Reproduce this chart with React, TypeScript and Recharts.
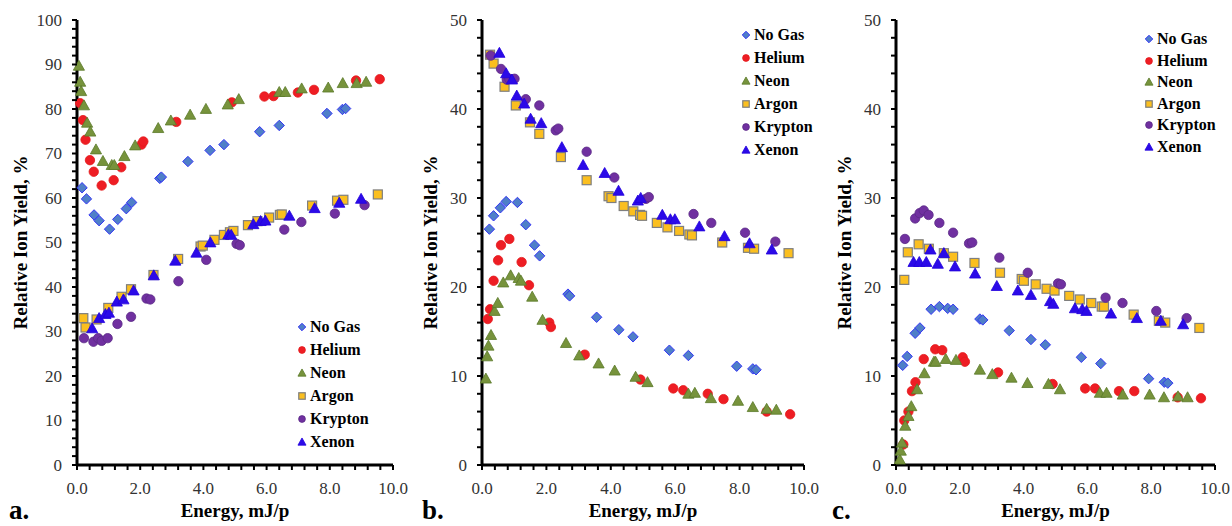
import { ScatterChart, Scatter, XAxis, YAxis, Legend, Label } from "recharts";

const FONT = "Liberation Serif, Tinos, Times New Roman, DejaVu Serif, serif";

// ---- panel a ----
const aNoGas = [
  { x: 0.16, y: 62.3 }, { x: 0.3, y: 59.8 }, { x: 0.54, y: 56.2 }, { x: 0.7, y: 54.9 },
  { x: 1.03, y: 53.0 }, { x: 1.29, y: 55.2 }, { x: 1.56, y: 57.6 }, { x: 1.73, y: 59.0 },
  { x: 2.62, y: 64.4 }, { x: 2.67, y: 64.7 }, { x: 3.51, y: 68.2 }, { x: 4.21, y: 70.7 },
  { x: 4.65, y: 72.0 }, { x: 5.78, y: 74.9 }, { x: 6.4, y: 76.3 }, { x: 7.91, y: 79.0 },
  { x: 8.4, y: 79.9 }, { x: 8.5, y: 80.1 },
];
const aHelium = [
  { x: 0.1, y: 81.3 }, { x: 0.19, y: 77.5 }, { x: 0.27, y: 73.1 }, { x: 0.41, y: 68.5 },
  { x: 0.53, y: 65.9 }, { x: 0.78, y: 62.8 }, { x: 1.16, y: 64.0 }, { x: 1.4, y: 66.9 },
  { x: 2.04, y: 72.0 }, { x: 2.1, y: 72.7 }, { x: 3.14, y: 77.1 }, { x: 4.9, y: 81.5 },
  { x: 5.93, y: 82.8 }, { x: 6.22, y: 82.9 }, { x: 6.99, y: 83.7 }, { x: 7.5, y: 84.3 },
  { x: 8.83, y: 86.4 }, { x: 9.58, y: 86.7 },
];
const aNeon = [
  { x: 0.06, y: 89.7 }, { x: 0.1, y: 86.1 }, { x: 0.13, y: 84.0 }, { x: 0.22, y: 80.8 },
  { x: 0.32, y: 76.9 }, { x: 0.42, y: 74.9 }, { x: 0.6, y: 70.9 }, { x: 0.82, y: 68.3 },
  { x: 1.1, y: 67.4 }, { x: 1.18, y: 67.4 }, { x: 1.5, y: 69.4 }, { x: 1.84, y: 71.8 },
  { x: 2.57, y: 75.7 }, { x: 2.97, y: 77.4 }, { x: 3.58, y: 78.7 }, { x: 4.08, y: 80.0 },
  { x: 4.77, y: 81.0 }, { x: 5.12, y: 82.2 }, { x: 6.4, y: 83.8 }, { x: 6.59, y: 83.8 },
  { x: 7.11, y: 84.6 }, { x: 7.95, y: 84.8 }, { x: 8.41, y: 85.8 }, { x: 8.85, y: 85.8 },
  { x: 9.15, y: 86.1 },
];
const aArgon = [
  { x: 0.2, y: 33.0 }, { x: 0.27, y: 30.9 }, { x: 0.62, y: 32.7 }, { x: 0.99, y: 35.3 },
  { x: 1.41, y: 37.8 }, { x: 1.71, y: 39.5 }, { x: 2.42, y: 42.7 }, { x: 3.2, y: 46.3 },
  { x: 3.91, y: 49.1 }, { x: 3.98, y: 49.3 }, { x: 4.35, y: 50.6 }, { x: 4.65, y: 51.7 },
  { x: 4.84, y: 52.3 }, { x: 4.95, y: 52.6 }, { x: 5.41, y: 53.9 }, { x: 5.71, y: 54.8 },
  { x: 6.08, y: 55.6 }, { x: 6.42, y: 56.2 }, { x: 6.48, y: 56.3 }, { x: 7.44, y: 58.3 },
  { x: 8.23, y: 59.4 }, { x: 8.43, y: 59.6 }, { x: 9.52, y: 60.8 },
];
const aKrypton = [
  { x: 0.22, y: 28.5 }, { x: 0.52, y: 27.7 }, { x: 0.67, y: 28.5 }, { x: 0.78, y: 27.9 },
  { x: 0.97, y: 28.5 }, { x: 1.28, y: 31.7 }, { x: 1.71, y: 33.3 }, { x: 2.2, y: 37.4 },
  { x: 2.32, y: 37.2 }, { x: 3.21, y: 41.3 }, { x: 4.09, y: 46.1 }, { x: 5.05, y: 49.7 },
  { x: 5.15, y: 49.4 }, { x: 6.56, y: 52.9 }, { x: 7.1, y: 54.6 }, { x: 8.16, y: 56.5 },
  { x: 9.1, y: 58.4 },
];
const aXenon = [
  { x: 0.48, y: 30.7 }, { x: 0.7, y: 33.0 }, { x: 0.9, y: 33.9 }, { x: 1.01, y: 34.2 },
  { x: 1.26, y: 36.7 }, { x: 1.47, y: 37.2 }, { x: 1.79, y: 39.2 }, { x: 2.43, y: 42.6 },
  { x: 3.11, y: 45.9 }, { x: 3.78, y: 47.7 }, { x: 4.22, y: 50.0 }, { x: 4.79, y: 51.8 },
  { x: 4.88, y: 51.7 }, { x: 5.58, y: 54.1 }, { x: 5.81, y: 54.8 }, { x: 5.96, y: 54.9 },
  { x: 6.72, y: 56.0 }, { x: 7.52, y: 57.7 }, { x: 8.3, y: 58.9 }, { x: 8.99, y: 59.8 },
];

// ---- panel b ----
const bNoGas = [
  { x: 0.23, y: 26.5 }, { x: 0.36, y: 28.0 }, { x: 0.57, y: 28.9 }, { x: 0.75, y: 29.6 },
  { x: 1.1, y: 29.5 }, { x: 1.36, y: 27.0 }, { x: 1.63, y: 24.7 }, { x: 1.79, y: 23.5 },
  { x: 2.67, y: 19.2 }, { x: 2.72, y: 19.0 }, { x: 3.56, y: 16.6 }, { x: 4.25, y: 15.2 },
  { x: 4.69, y: 14.4 }, { x: 5.82, y: 12.9 }, { x: 6.41, y: 12.3 }, { x: 7.91, y: 11.1 },
  { x: 8.41, y: 10.8 }, { x: 8.51, y: 10.7 },
];
const bHelium = [
  { x: 0.18, y: 16.4 }, { x: 0.25, y: 17.5 }, { x: 0.36, y: 20.7 }, { x: 0.5, y: 23.0 },
  { x: 0.59, y: 24.7 }, { x: 0.85, y: 25.4 }, { x: 1.23, y: 22.8 }, { x: 1.46, y: 20.2 },
  { x: 2.09, y: 16.0 }, { x: 2.14, y: 15.5 }, { x: 3.19, y: 12.4 }, { x: 4.92, y: 9.6 },
  { x: 5.94, y: 8.6 }, { x: 6.25, y: 8.4 }, { x: 7.01, y: 8.0 }, { x: 7.5, y: 7.4 },
  { x: 8.84, y: 6.0 }, { x: 9.57, y: 5.7 },
];
const bNeon = [
  { x: 0.12, y: 9.7 }, { x: 0.16, y: 12.2 }, { x: 0.2, y: 13.4 }, { x: 0.28, y: 14.6 },
  { x: 0.39, y: 17.3 }, { x: 0.49, y: 18.2 }, { x: 0.66, y: 20.5 }, { x: 0.89, y: 21.3 },
  { x: 1.14, y: 21.0 }, { x: 1.21, y: 20.7 }, { x: 1.56, y: 18.9 }, { x: 1.88, y: 16.3 },
  { x: 2.61, y: 13.7 }, { x: 3.02, y: 12.3 }, { x: 3.62, y: 11.4 }, { x: 4.12, y: 10.6 },
  { x: 4.77, y: 9.9 }, { x: 5.14, y: 9.3 }, { x: 6.41, y: 8.0 }, { x: 6.61, y: 8.1 },
  { x: 7.11, y: 7.5 }, { x: 7.95, y: 7.2 }, { x: 8.41, y: 6.5 }, { x: 8.84, y: 6.3 },
  { x: 9.14, y: 6.2 },
];
const bArgon = [
  { x: 0.25, y: 46.1 }, { x: 0.36, y: 45.1 }, { x: 0.7, y: 42.5 }, { x: 1.05, y: 40.4 },
  { x: 1.49, y: 38.5 }, { x: 1.78, y: 37.2 }, { x: 2.45, y: 34.6 }, { x: 3.25, y: 32.0 },
  { x: 3.93, y: 30.2 }, { x: 4.02, y: 30.0 }, { x: 4.4, y: 29.1 }, { x: 4.7, y: 28.5 },
  { x: 4.91, y: 28.1 }, { x: 4.97, y: 28.0 }, { x: 5.43, y: 27.2 }, { x: 5.76, y: 26.7 },
  { x: 6.12, y: 26.3 }, { x: 6.44, y: 25.9 }, { x: 6.52, y: 25.8 }, { x: 7.46, y: 25.0 },
  { x: 8.26, y: 24.4 }, { x: 8.45, y: 24.3 }, { x: 9.52, y: 23.8 },
];
const bKrypton = [
  { x: 0.27, y: 46.0 }, { x: 0.59, y: 44.5 }, { x: 0.77, y: 43.3 }, { x: 0.85, y: 43.4 },
  { x: 1.01, y: 43.4 }, { x: 1.36, y: 41.1 }, { x: 1.78, y: 40.4 }, { x: 2.29, y: 37.6 },
  { x: 2.37, y: 37.8 }, { x: 3.25, y: 35.2 }, { x: 4.11, y: 32.3 }, { x: 5.09, y: 29.9 },
  { x: 5.18, y: 30.1 }, { x: 6.57, y: 28.2 }, { x: 7.12, y: 27.2 }, { x: 8.17, y: 26.1 },
  { x: 9.11, y: 25.1 },
];
const bXenon = [
  { x: 0.54, y: 46.3 }, { x: 0.75, y: 44.0 }, { x: 0.93, y: 43.3 }, { x: 1.08, y: 41.5 },
  { x: 1.31, y: 40.6 }, { x: 1.51, y: 38.9 }, { x: 1.84, y: 38.4 }, { x: 2.48, y: 35.7 },
  { x: 3.14, y: 33.7 }, { x: 3.81, y: 32.8 }, { x: 4.24, y: 30.8 }, { x: 4.84, y: 29.7 },
  { x: 4.93, y: 30.0 }, { x: 5.6, y: 28.1 }, { x: 5.85, y: 27.6 }, { x: 5.99, y: 27.6 },
  { x: 6.75, y: 26.8 }, { x: 7.53, y: 25.7 }, { x: 8.31, y: 24.9 }, { x: 9.0, y: 24.2 },
];

// ---- panel c ----
const cNoGas = [
  { x: 0.21, y: 11.2 }, { x: 0.35, y: 12.2 }, { x: 0.6, y: 14.8 }, { x: 0.75, y: 15.4 },
  { x: 1.1, y: 17.5 }, { x: 1.36, y: 17.8 }, { x: 1.62, y: 17.6 }, { x: 1.79, y: 17.5 },
  { x: 2.63, y: 16.4 }, { x: 2.72, y: 16.3 }, { x: 3.55, y: 15.1 }, { x: 4.23, y: 14.1 },
  { x: 4.68, y: 13.5 }, { x: 5.81, y: 12.1 }, { x: 6.42, y: 11.4 }, { x: 7.92, y: 9.7 },
  { x: 8.41, y: 9.3 }, { x: 8.52, y: 9.2 },
];
const cHelium = [
  { x: 0.23, y: 2.3 }, { x: 0.26, y: 5.0 }, { x: 0.39, y: 6.0 }, { x: 0.5, y: 8.3 },
  { x: 0.61, y: 9.3 }, { x: 0.87, y: 11.9 }, { x: 1.23, y: 13.0 }, { x: 1.45, y: 12.9 },
  { x: 2.09, y: 12.1 }, { x: 2.16, y: 11.6 }, { x: 3.2, y: 10.4 }, { x: 4.91, y: 9.1 },
  { x: 5.93, y: 8.6 }, { x: 6.24, y: 8.6 }, { x: 6.99, y: 8.3 }, { x: 7.47, y: 8.3 },
  { x: 8.83, y: 7.6 }, { x: 9.56, y: 7.5 },
];
const cNeon = [
  { x: 0.12, y: 0.6 }, { x: 0.15, y: 1.6 }, { x: 0.19, y: 2.5 }, { x: 0.29, y: 4.4 },
  { x: 0.39, y: 5.5 }, { x: 0.48, y: 6.6 }, { x: 0.66, y: 8.5 }, { x: 0.89, y: 10.3 },
  { x: 1.19, y: 11.6 }, { x: 1.24, y: 11.6 }, { x: 1.56, y: 11.9 }, { x: 1.88, y: 11.8 },
  { x: 2.63, y: 10.7 }, { x: 3.02, y: 10.2 }, { x: 3.62, y: 9.8 }, { x: 4.12, y: 9.2 },
  { x: 4.78, y: 9.1 }, { x: 5.14, y: 8.5 }, { x: 6.39, y: 8.1 }, { x: 6.6, y: 8.1 },
  { x: 7.11, y: 7.9 }, { x: 7.95, y: 7.9 }, { x: 8.4, y: 7.6 }, { x: 8.84, y: 7.7 },
  { x: 9.14, y: 7.6 },
];
const cArgon = [
  { x: 0.26, y: 20.8 }, { x: 0.37, y: 23.9 }, { x: 0.71, y: 24.8 }, { x: 1.03, y: 24.3 },
  { x: 1.5, y: 23.8 }, { x: 1.79, y: 23.4 }, { x: 2.46, y: 22.7 }, { x: 3.26, y: 21.6 },
  { x: 3.94, y: 20.9 }, { x: 4.01, y: 20.7 }, { x: 4.38, y: 20.3 }, { x: 4.72, y: 19.8 },
  { x: 4.97, y: 19.6 }, { x: 5.43, y: 19.0 }, { x: 5.76, y: 18.6 }, { x: 6.12, y: 18.2 },
  { x: 6.45, y: 17.8 }, { x: 6.52, y: 17.8 }, { x: 7.45, y: 16.9 }, { x: 8.24, y: 16.2 },
  { x: 8.44, y: 16.0 }, { x: 9.51, y: 15.4 },
];
const cKrypton = [
  { x: 0.28, y: 25.4 }, { x: 0.6, y: 27.7 }, { x: 0.74, y: 28.3 }, { x: 0.87, y: 28.6 },
  { x: 1.02, y: 28.1 }, { x: 1.36, y: 27.2 }, { x: 1.79, y: 26.1 }, { x: 2.29, y: 24.9 },
  { x: 2.39, y: 25.0 }, { x: 3.24, y: 23.3 }, { x: 4.13, y: 21.6 }, { x: 5.08, y: 20.4 },
  { x: 5.17, y: 20.3 }, { x: 6.57, y: 18.8 }, { x: 7.1, y: 18.2 }, { x: 8.16, y: 17.3 },
  { x: 9.11, y: 16.5 },
];
const cXenon = [
  { x: 0.55, y: 22.8 }, { x: 0.73, y: 22.8 }, { x: 0.95, y: 22.8 }, { x: 1.08, y: 24.2 },
  { x: 1.31, y: 22.6 }, { x: 1.5, y: 23.8 }, { x: 1.85, y: 22.3 }, { x: 2.48, y: 21.5 },
  { x: 3.16, y: 20.1 }, { x: 3.82, y: 19.6 }, { x: 4.23, y: 19.1 }, { x: 4.83, y: 18.4 },
  { x: 4.93, y: 18.1 }, { x: 5.61, y: 17.6 }, { x: 5.84, y: 17.5 }, { x: 5.97, y: 17.3 },
  { x: 6.74, y: 17.0 }, { x: 7.55, y: 16.5 }, { x: 8.3, y: 16.2 }, { x: 9.0, y: 15.8 },
];

// ---- ticks ----
const xTicks = [0, 0.4, 0.8, 1.2, 1.6, 2, 2.4, 2.8, 3.2, 3.6, 4, 4.4, 4.8, 5.2, 5.6, 6, 6.4, 6.8, 7.2, 7.6, 8, 8.4, 8.8, 9.2, 9.6, 10];
const xMajor = [0, 2, 4, 6, 8, 10];
const yTicks50 = [0, 2, 4, 6, 8, 10, 12, 14, 16, 18, 20, 22, 24, 26, 28, 30, 32, 34, 36, 38, 40, 42, 44, 46, 48, 50];
const yTicks100 = [...yTicks50, 52, 54, 56, 58, 60, 62, 64, 66, 68, 70, 72, 74, 76, 78, 80, 82, 84, 86, 88, 90, 92, 94, 96, 98, 100];
const yMajor = [0, 10, 20, 30, 40, 50, 60, 70, 80, 90, 100];

const gases = [
  { name: "No Gas", kind: "diamond", fill: "#4f7fc8", stroke: "#3535f5" },
  { name: "Helium", kind: "circle", fill: "#ee1d24", stroke: "#e31a1c" },
  { name: "Neon", kind: "triangle", fill: "#77933c", stroke: "#5a7a2a" },
  { name: "Argon", kind: "square", fill: "#fbbf1f", stroke: "#7f7f7f" },
  { name: "Krypton", kind: "circle", fill: "#7030a0", stroke: "#5b2a86" },
  { name: "Xenon", kind: "triangle", fill: "#2b0ae8", stroke: "#2200dd" },
];

function markerEl(kind: string, cx: number, cy: number, s: number, fill: string, stroke: string) {
  if (kind === "diamond") {
    const h = 5.2 * s;
    return <polygon points={`${cx},${cy - h} ${cx + h},${cy} ${cx},${cy + h} ${cx - h},${cy}`} fill={fill} stroke={stroke} strokeWidth={1} />;
  }
  if (kind === "circle") return <circle cx={cx} cy={cy} r={4.7 * s} fill={fill} stroke={stroke} strokeWidth={0.8} />;
  if (kind === "triangle") {
    const w = 5.6 * s;
    return <polygon points={`${cx},${cy - 5.6 * s} ${cx + w},${cy + 4.4 * s} ${cx - w},${cy + 4.4 * s}`} fill={fill} stroke={stroke} strokeWidth={0.8} />;
  }
  const h = 4.5 * s;
  return <rect x={cx - h} y={cy - h} width={2 * h} height={2 * h} fill={fill} stroke={stroke} strokeWidth={1.2} />;
}

const XTick = (props: any) => {
  const { x, y, payload } = props;
  const v = payload.value;
  const major = xMajor.some((m) => Math.abs(m - v) < 1e-6);
  return (
    <g>
      <line x1={x} y1={y} x2={x} y2={y + 5} stroke="#000" strokeWidth={2} />
      {major && (
        <text x={x} y={y + 29} textAnchor="middle" fontFamily={FONT} fontSize={17} fill="#333">
          {v.toFixed(1)}
        </text>
      )}
    </g>
  );
};

const YTick = (props: any) => {
  const { x, y, payload } = props;
  const v = payload.value;
  const major = yMajor.includes(v);
  return (
    <g>
      <line x1={x} y1={y} x2={x - 5} y2={y} stroke="#000" strokeWidth={2} />
      {major && (
        <text x={x - 15} y={y} textAnchor="end" dominantBaseline="central" fontFamily={FONT} fontSize={17} fill="#333">
          {v}
        </text>
      )}
    </g>
  );
};

function LegendBox({ rowH }: { rowH: number }) {
  return (
    <div style={{ fontFamily: FONT, fontWeight: "bold", fontSize: 16, color: "#000" }}>
      {gases.map((g) => (
        <div key={g.name} style={{ display: "flex", alignItems: "center", height: rowH, whiteSpace: "nowrap" }}>
          <svg width={10} height={10} style={{ marginRight: 3 }}>
            {markerEl(g.kind, 5, 5, 0.72, g.fill, g.stroke)}
          </svg>
          <span>{g.name}</span>
        </div>
      ))}
    </div>
  );
}

interface PanelProps {
  letter: string;
  left: number;
  width: number;
  yAxisWidth: number;
  marginRight: number;
  yMax: number;
  yTicks: number[];
  series: { x: number; y: number }[][];
  legendLeft: number;
  legendTop: number;
  rowH: number;
  yLabelX: number;
  letterX: number;
}

function Panel(p: PanelProps) {
  return (
    <div style={{ position: "absolute", left: p.left, top: 0 }}>
      <ScatterChart width={p.width} height={526} margin={{ top: 20, right: p.marginRight, left: 0, bottom: 0 }}>
        <XAxis
          type="number"
          dataKey="x"
          domain={[0, 10]}
          ticks={xTicks}
          interval={0}
          tick={<XTick />}
          tickLine={false}
          tickSize={0}
          tickMargin={0}
          height={61}
          axisLine={{ stroke: "#000", strokeWidth: 3 }}
        >
          <Label
            content={(lp: any) => {
              const vb = lp.viewBox;
              return (
                <g>
                  <text x={vb.x + vb.width / 2} y={vb.y + 52} textAnchor="middle" fontFamily={FONT} fontWeight="bold" fontSize={19} fill="#000">
                    Energy, mJ/p
                  </text>
                  <text x={p.letterX} y={519} fontFamily={FONT} fontWeight="bold" fontSize={27} fill="#000">
                    {p.letter}
                  </text>
                </g>
              );
            }}
          />
        </XAxis>
        <YAxis
          type="number"
          dataKey="y"
          domain={[0, p.yMax]}
          ticks={p.yTicks}
          interval={0}
          tick={<YTick />}
          tickLine={false}
          tickSize={0}
          tickMargin={0}
          width={p.yAxisWidth}
          axisLine={{ stroke: "#000", strokeWidth: 3 }}
        >
          <Label
            content={(lp: any) => {
              const vb = lp.viewBox;
              const cy = vb.y + vb.height / 2;
              return (
                <text
                  x={p.yLabelX}
                  y={cy}
                  transform={`rotate(-90 ${p.yLabelX} ${cy})`}
                  textAnchor="middle"
                  dominantBaseline="central"
                  fontFamily={FONT}
                  fontWeight="bold"
                  fontSize={19}
                  fill="#000"
                >
                  Relative Ion Yield, %
                </text>
              );
            }}
          />
        </YAxis>
        {gases.map((g, i) => (
          <Scatter
            key={g.name}
            name={g.name}
            data={p.series[i]}
            fill={g.fill}
            isAnimationActive={false}
            shape={(sp: any) => markerEl(g.kind, sp.cx, sp.cy, 1, g.fill, g.stroke)}
          />
        ))}
        <Legend
          layout="vertical"
          align="center"
          verticalAlign="middle"
          wrapperStyle={{ left: p.legendLeft, top: p.legendTop, width: "auto", height: "auto" }}
          content={() => <LegendBox rowH={p.rowH} />}
        />
      </ScatterChart>
    </div>
  );
}

export default function App() {
  return (
    <div style={{ position: "absolute", left: 0, top: 0, width: 1232, height: 526, background: "#fff" }}>
      <Panel
        letter="a."
        left={0}
        width={410}
        yAxisWidth={77}
        marginRight={17}
        yMax={100}
        yTicks={yTicks100}
        series={[aNoGas, aHelium, aNeon, aArgon, aKrypton, aXenon]}
        legendLeft={297}
        legendTop={315.5}
        rowH={23}
        yLabelX={20}
        letterX={9}
      />
      <Panel
        letter="b."
        left={410}
        width={410}
        yAxisWidth={72}
        marginRight={16}
        yMax={50}
        yTicks={yTicks50}
        series={[bNoGas, bHelium, bNeon, bArgon, bKrypton, bXenon]}
        legendLeft={331}
        legendTop={23.5}
        rowH={23}
        yLabelX={20}
        letterX={12}
      />
      <Panel
        letter="c."
        left={820}
        width={412}
        yAxisWidth={76}
        marginRight={17}
        yMax={50}
        yTicks={yTicks50}
        series={[cNoGas, cHelium, cNeon, cArgon, cKrypton, cXenon]}
        legendLeft={324}
        legendTop={28.2}
        rowH={21.6}
        yLabelX={24}
        letterX={12}
      />
    </div>
  );
}
